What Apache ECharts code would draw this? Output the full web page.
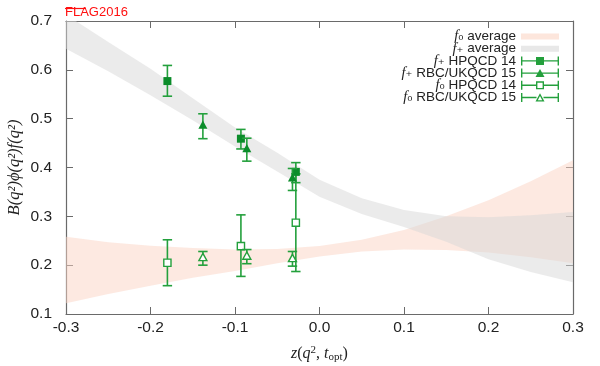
<!DOCTYPE html>
<html><head><meta charset="utf-8">
<script src="https://cdn.jsdelivr.net/npm/echarts@6/dist/echarts.min.js"></script>
<style>html,body{margin:0;padding:0;background:#fff}#c{width:600px;height:366px}</style>
</head><body><div id="c"></div>
<script>
// ---------- data ----------
const xTickVals = [-0.3, -0.2, -0.1, 0.0, 0.1, 0.2, 0.3];
const yTickVals = [0.1, 0.2, 0.3, 0.4, 0.5, 0.6, 0.7];

// fit bands (z, lower, upper)
const bandZ   = [-0.3, -0.25, -0.2, -0.15, -0.1, -0.05, 0.0, 0.05, 0.1, 0.15, 0.2, 0.25, 0.3];
const fPlusLo = [0.643, 0.597, 0.548, 0.497, 0.443, 0.392, 0.340, 0.305, 0.278, 0.248, 0.212, 0.186, 0.165];
const fPlusHi = [0.713, 0.657, 0.602, 0.542, 0.482, 0.430, 0.375, 0.337, 0.313, 0.300, 0.298, 0.302, 0.309];
const fZeroLo = [0.122, 0.141, 0.158, 0.174, 0.188, 0.204, 0.218, 0.228, 0.232, 0.231, 0.226, 0.216, 0.204];
const fZeroHi = [0.258, 0.247, 0.240, 0.235, 0.232, 0.233, 0.239, 0.252, 0.272, 0.300, 0.333, 0.372, 0.415];

// f+ HPQCD 14
const fpHpqcdZ   = [-0.180, -0.093, -0.028];
const fpHpqcdVal = [0.577, 0.459, 0.391];
const fpHpqcdLo  = [0.546, 0.438, 0.369];
const fpHpqcdHi  = [0.609, 0.478, 0.410];
// f+ RBC/UKQCD 15
const fpRbcZ   = [-0.138, -0.086, -0.032];
const fpRbcVal = [0.486, 0.438, 0.378];
const fpRbcLo  = [0.459, 0.413, 0.353];
const fpRbcHi  = [0.510, 0.460, 0.398];
// f0 HPQCD 14
const f0HpqcdZ   = [-0.180, -0.093, -0.028];
const f0HpqcdVal = [0.205, 0.239, 0.287];
const f0HpqcdLo  = [0.158, 0.177, 0.187];
const f0HpqcdHi  = [0.252, 0.303, 0.387];
// f0 RBC/UKQCD 15
const f0RbcZ   = [-0.138, -0.086, -0.032];
const f0RbcVal = [0.215, 0.218, 0.213];
const f0RbcLo  = [0.200, 0.203, 0.198];
const f0RbcHi  = [0.228, 0.232, 0.228];

// ---------- styles ----------
const GREEN_LINE = '#23a03c';
const GREEN_FILL = '#0b8c2a';
const AXIS_COL = '#6a6a6a';
const PINK = 'rgba(251,211,195,0.5)';
const GREY = 'rgba(215,215,215,0.5)';

function bandRender(zs, lo, hi, color) {
  return function (params, api) {
    if (params.dataIndex !== 0) return null;
    const pts = [];
    for (let i = 0; i < zs.length; i++) pts.push(api.coord([zs[i], hi[i]]));
    for (let i = zs.length - 1; i >= 0; i--) pts.push(api.coord([zs[i], lo[i]]));
    const cs = params.coordSys;
    return {
      type: 'polygon',
      shape: { points: pts },
      style: { fill: color },
      clipPath: { type: 'rect', shape: { x: cs.x, y: cs.y, width: cs.width, height: cs.height } }
    };
  };
}

function errRender(marker) {
  return function (params, api) {
    const z = api.value(0), v = api.value(1), lo = api.value(2), hi = api.value(3);
    const c = api.coord([z, v]);
    const pl = api.coord([z, lo]);
    const ph = api.coord([z, hi]);
    const cap = 4.7;
    const ls = { stroke: GREEN_LINE, lineWidth: 1.6 };
    const ch = [
      { type: 'line', shape: { x1: c[0], y1: ph[1], x2: c[0], y2: pl[1] }, style: ls },
      { type: 'line', shape: { x1: c[0] - cap, y1: ph[1], x2: c[0] + cap, y2: ph[1] }, style: ls },
      { type: 'line', shape: { x1: c[0] - cap, y1: pl[1], x2: c[0] + cap, y2: pl[1] }, style: ls }
    ];
    const s = 4;
    if (marker === 'fsq') {
      ch.push({ type: 'rect', shape: { x: c[0] - s, y: c[1] - s, width: 2 * s, height: 2 * s }, style: { fill: GREEN_FILL } });
    } else if (marker === 'osq') {
      ch.push({ type: 'rect', shape: { x: c[0] - 3.6, y: c[1] - 3.6, width: 7.2, height: 7.2 }, style: { fill: '#fff', stroke: GREEN_LINE, lineWidth: 1.4 } });
    } else if (marker === 'ftri') {
      ch.push({ type: 'polygon', shape: { points: [[c[0], c[1] - 5], [c[0] + 4.5, c[1] + 3.2], [c[0] - 4.5, c[1] + 3.2]] }, style: { fill: GREEN_FILL } });
    } else {
      ch.push({ type: 'polygon', shape: { points: [[c[0], c[1] - 4.5], [c[0] + 4, c[1] + 2.8], [c[0] - 4, c[1] + 2.8]] }, style: { fill: '#fff', stroke: GREEN_LINE, lineWidth: 1.4 } });
    }
    return { type: 'group', children: ch };
  };
}

function rows(z, v, lo, hi) { return z.map((x, i) => [x, v[i], lo[i], hi[i]]); }

// legend icons (38 x 10 box)
const capsLine = 'M0 4.3 L38 4.3 L38 5.7 L0 5.7 Z M0 0.5 L1.4 0.5 L1.4 9.5 L0 9.5 Z M36.6 0.5 L38 0.5 L38 9.5 L36.6 9.5 Z ';
const splitLine = 'M0 4.3 L15 4.3 L15 5.7 L0 5.7 Z M23 4.3 L38 4.3 L38 5.7 L23 5.7 Z M0 0.5 L1.4 0.5 L1.4 9.5 L0 9.5 Z M36.6 0.5 L38 0.5 L38 9.5 L36.6 9.5 Z ';
const ICON_FSQ = 'path://' + capsLine + 'M15 1 L23 1 L23 9 L15 9 Z';
const ICON_FTRI = 'path://' + capsLine + 'M19 0.8 L23.5 9 L14.5 9 Z';
const ICON_OSQ = 'path://' + splitLine + 'M15 1 L23 1 L23 9 L15 9 Z M16.4 2.4 L16.4 7.6 L21.6 7.6 L21.6 2.4 Z';
const ICON_OTRI = 'path://' + 'M0 4.3 L15.5 4.3 L15.5 5.7 L0 5.7 Z M22.5 4.3 L38 4.3 L38 5.7 L22.5 5.7 Z M0 0.5 L1.4 0.5 L1.4 9.5 L0 9.5 Z M36.6 0.5 L38 0.5 L38 9.5 L36.6 9.5 Z ' + 'M19 0.8 L23.5 9 L14.5 9 Z M19 3.6 L16.8 7.8 L21.2 7.8 Z';
const ICON_BAND = 'path://M0 0 L38 0 Z M0 2 L38 2 L38 8 L0 8 Z M0 10 L38 10 Z';

const chart = echarts.init(document.getElementById('c'), null, { renderer: 'canvas' });

const fmt = v => (Math.abs(v) < 1e-9 ? '0.0' : v.toFixed(1));

function legendFmt(name) {
  const m = name.match(/^f([0+]) (.*)$/);
  return '{f|f}{s|' + (m[1] === '0' ? '\u2080' : '\u208A') + '}{t| ' + m[2] + '}';
}

const bandData = bandZ.map((z, i) => [z, fZeroLo[i], fZeroHi[i]]);

const axisCommon = {
  axisLine: { show: true, onZero: false, lineStyle: { color: AXIS_COL, width: 1.2 } },
  axisTick: { show: true, inside: true, length: 7, lineStyle: { color: AXIS_COL } },
  splitLine: { show: false }
};

const option = {
  animation: false,
  backgroundColor: '#fff',
  grid: { left: 66, right: 27, top: 21, bottom: 52, outerBoundsMode: 'none', containLabel: false },
  xAxis: [Object.assign({
    type: 'value', min: -0.3, max: 0.3, interval: 0.1,
    name: '{i|z}{r|(}{i|q}{sup|2}{r|, }{i|t}{sub|opt}{r|)}',
    nameLocation: 'middle', nameGap: 31,
    nameTextStyle: {
      rich: {
        i: { fontFamily: 'Liberation Serif', fontStyle: 'italic', fontSize: 16, color: '#222', lineHeight: 18, verticalAlign: 'middle' },
        r: { fontFamily: 'Liberation Serif', fontSize: 16, color: '#222', lineHeight: 18, verticalAlign: 'middle' },
        sup: { fontFamily: 'Liberation Serif', fontSize: 11, color: '#222', lineHeight: 11, verticalAlign: 'top' },
        sub: { fontFamily: 'Liberation Serif', fontSize: 11, color: '#222', lineHeight: 11, verticalAlign: 'bottom' }
      }
    },
    axisLabel: { formatter: fmt, fontFamily: 'Liberation Sans', fontSize: 15.5, color: '#222', margin: 6 }
  }, axisCommon), Object.assign({
    type: 'value', position: 'top', min: -0.3, max: 0.3, interval: 0.1,
    axisLabel: { show: false }
  }, axisCommon)],
  yAxis: [Object.assign({
    type: 'value', min: 0.1, max: 0.7, interval: 0.1,
    name: 'B(q²)ϕ(q²)f(q²)',
    nameLocation: 'middle', nameGap: 43, nameRotate: 90, nameMoveOverlap: false,
    nameTextStyle: { fontFamily: 'Liberation Serif', fontStyle: 'italic', fontSize: 16.5, color: '#222' },
    axisLabel: { formatter: fmt, fontFamily: 'Liberation Sans', fontSize: 15.5, color: '#222', margin: 14 }
  }, axisCommon), Object.assign({
    type: 'value', position: 'right', min: 0.1, max: 0.7, interval: 0.1,
    axisLabel: { show: false }
  }, axisCommon)],
  legend: {
    orient: 'vertical', right: 41, top: 29, align: 'right', padding: 0,
    itemWidth: 38, itemHeight: 10, itemGap: -2.8,
    formatter: legendFmt,
    textStyle: {
      color: '#222', fontFamily: 'Liberation Sans', fontSize: 13.5,
      rich: {
        f: { fontFamily: 'Liberation Serif', fontStyle: 'italic', fontSize: 14.5, color: '#222' },
        s: { fontFamily: 'DejaVu Sans', fontSize: 13, color: '#222' },
        t: { fontFamily: 'Liberation Sans', fontSize: 13.5, color: '#222' }
      }
    },
    data: [
      { name: 'f0 average', icon: ICON_BAND, itemStyle: { color: '#fde6dc', borderWidth: 0 } },
      { name: 'f+ average', icon: ICON_BAND, itemStyle: { color: '#e8e8e8', borderWidth: 0 } },
      { name: 'f+ HPQCD 14', icon: ICON_FSQ, itemStyle: { color: GREEN_LINE, borderWidth: 0 } },
      { name: 'f+ RBC/UKQCD 15', icon: ICON_FTRI, itemStyle: { color: GREEN_LINE, borderWidth: 0 } },
      { name: 'f0 HPQCD 14', icon: ICON_OSQ, itemStyle: { color: GREEN_LINE, borderWidth: 0 } },
      { name: 'f0 RBC/UKQCD 15', icon: ICON_OTRI, itemStyle: { color: GREEN_LINE, borderWidth: 0 } }
    ]
  },
  graphic: [
    { type: 'text', left: 65, top: 6, style: { text: 'FLAG2016', fill: '#ff1010', font: '13px "Liberation Sans"' }, z: 10 },
    { type: 'line', shape: { x1: 65, y1: 8.5, x2: 86, y2: 8.5 }, style: { stroke: '#ff1010', lineWidth: 1.2 }, z: 10 }
  ],
  series: [
    { type: 'custom', name: 'f0 average', renderItem: bandRender(bandZ, fZeroLo, fZeroHi, PINK),
      itemStyle: { color: '#fde6dc' }, data: bandData, encode: { x: 0, y: [1, 2] }, z: 1, silent: true },
    { type: 'custom', name: 'f+ average', renderItem: bandRender(bandZ, fPlusLo, fPlusHi, GREY),
      itemStyle: { color: '#e8e8e8' }, data: bandData, encode: { x: 0, y: [1, 2] }, z: 1, silent: true },
    { type: 'custom', name: 'f+ HPQCD 14', renderItem: errRender('fsq'), itemStyle: { color: GREEN_LINE },
      data: rows(fpHpqcdZ, fpHpqcdVal, fpHpqcdLo, fpHpqcdHi), encode: { x: 0, y: [1, 2, 3] }, z: 5 },
    { type: 'custom', name: 'f+ RBC/UKQCD 15', renderItem: errRender('ftri'), itemStyle: { color: GREEN_LINE },
      data: rows(fpRbcZ, fpRbcVal, fpRbcLo, fpRbcHi), encode: { x: 0, y: [1, 2, 3] }, z: 5 },
    { type: 'custom', name: 'f0 HPQCD 14', renderItem: errRender('osq'), itemStyle: { color: GREEN_LINE },
      data: rows(f0HpqcdZ, f0HpqcdVal, f0HpqcdLo, f0HpqcdHi), encode: { x: 0, y: [1, 2, 3] }, z: 4 },
    { type: 'custom', name: 'f0 RBC/UKQCD 15', renderItem: errRender('otri'), itemStyle: { color: GREEN_LINE },
      data: rows(f0RbcZ, f0RbcVal, f0RbcLo, f0RbcHi), encode: { x: 0, y: [1, 2, 3] }, z: 5 }
  ]
};
chart.setOption(option);
</script>
</body></html>
